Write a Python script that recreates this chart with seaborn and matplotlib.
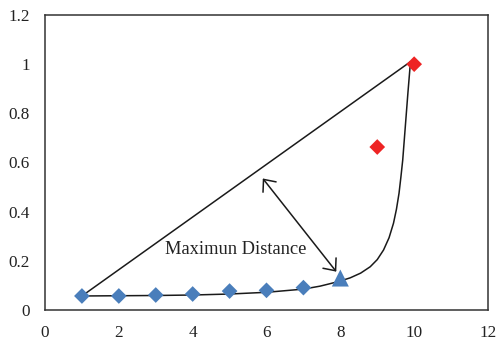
import matplotlib
matplotlib.use("Agg")
import matplotlib.pyplot as plt
import seaborn as sns
from matplotlib.patches import FancyArrowPatch

# Data
blue_x = [1, 2, 3, 4, 5, 6, 7]
blue_y = [0.057, 0.057, 0.061, 0.065, 0.077, 0.080, 0.091]
red_x = [9, 10]
red_y = [0.663, 1.0]
tri_x = [8]
tri_y = [0.13]
chord_x = [1, 9.9]
chord_y = [0.057, 1.01]
curve_x = [1, 2, 3, 4, 5, 6, 7, 7.45, 7.72, 8.0, 8.27, 8.55, 8.81, 9.0, 9.17, 9.32,
           9.44, 9.52, 9.59, 9.64, 9.69, 9.76, 9.83, 9.9]
curve_y = [0.057, 0.058, 0.059, 0.061, 0.065, 0.072, 0.085, 0.097, 0.107, 0.118, 0.131,
           0.150, 0.176, 0.205, 0.244, 0.294, 0.353, 0.41, 0.475, 0.54, 0.61, 0.746,
           0.882, 1.01]
arrow_start = (5.9, 0.535)
arrow_end = (7.89, 0.156)
label_text = "Maximun Distance"
label_pos = (5.16, 0.247)
x_ticks = [0, 2, 4, 6, 8, 10, 12]
y_ticks = [0, 0.2, 0.4, 0.6, 0.8, 1.0, 1.2]
y_tick_labels = ["0", "0.2", "0.4", "0.6", "0.8", "1", "1.2"]

sns.set_style("white")
plt.rcParams["font.family"] = ["Liberation Serif", "DejaVu Serif"]

fig = plt.figure(figsize=(4.97, 3.43), dpi=100)
ax = fig.add_axes([45 / 497, 1 - 310 / 343, (488 - 45) / 497, (310 - 15) / 343])

lc = "#1a1a1a"
sns.lineplot(x=chord_x, y=chord_y, ax=ax, color=lc, lw=1.1, sort=False, zorder=2)
l2 = sns.lineplot(x=curve_x, y=curve_y, ax=ax, color=lc, lw=1.1, sort=False, zorder=2)
for ln in ax.lines:
    ln.set_solid_joinstyle("round")

sns.scatterplot(x=blue_x, y=blue_y, ax=ax, marker="D", s=64, color="#4a7ebb",
                edgecolor="none", linewidth=0, zorder=3)
sns.scatterplot(x=red_x, y=red_y, ax=ax, marker="D", s=64, color="#ee2424",
                edgecolor="none", linewidth=0, zorder=3)
sns.scatterplot(x=tri_x, y=tri_y, ax=ax, marker="^", s=150, color="#4a7ebb",
                edgecolor="none", linewidth=0, zorder=3)

arr = FancyArrowPatch(arrow_start, arrow_end,
                      arrowstyle="<->,head_length=0.7,head_width=0.6",
                      mutation_scale=10, color=lc, lw=1.1, zorder=2,
                      shrinkA=0, shrinkB=0)
ax.add_patch(arr)

ax.text(label_pos[0], label_pos[1], label_text, ha="center", va="center",
        fontsize=13.3, color="#222222")

ax.set_xlim(0, 12)
ax.set_ylim(0, 1.2)
ax.set_xticks(x_ticks)
ax.set_yticks(y_ticks)
ax.set_yticklabels(y_tick_labels)
ax.tick_params(axis="both", length=0, labelsize=12.3, colors="#222222")
ax.tick_params(axis="y", pad=11)
ax.tick_params(axis="x", pad=10.5)
for sp in ax.spines.values():
    sp.set_visible(True)
    sp.set_color("#333333")
    sp.set_linewidth(1.1)
ax.set_xlabel("")
ax.set_ylabel("")

fig.savefig("out.png", dpi=100)
